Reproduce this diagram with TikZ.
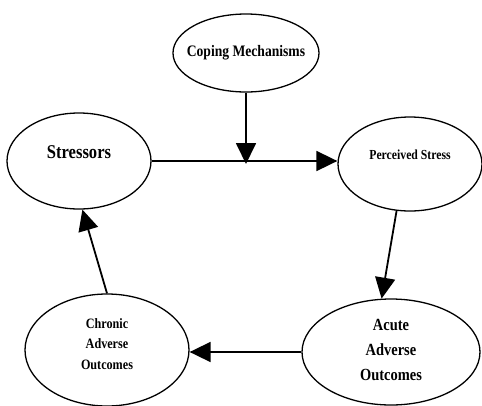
\documentclass[tikz,border=0pt]{standalone}
\usepackage{fontspec}
\setmainfont{Liberation Serif}
\newfontfamily\condserif[FakeStretch=0.85]{Liberation Serif}
\usetikzlibrary{arrows.meta,shapes.geometric}
\newcommand{\capfont}[2]{\fontsize{#1}{#2}\condserif\bfseries}
\begin{document}
\begin{tikzpicture}[x=1pt,y=-1pt,
  bubble/.style={ellipse,draw,line width=1.3pt,inner sep=0pt},
  caption/.style={inner sep=0pt,align=center},
  flow/.style={line width=1.8pt,-{Triangle[length=21pt,width=20pt]}}]
\useasboundingbox (0,0) rectangle (482,405);
% the five ellipses
\node[bubble,minimum width=146pt,minimum height=78pt] (cm) at (246,53) {};
\node[bubble,minimum width=144pt,minimum height=96pt] (s) at (79,161) {};
\node[bubble,minimum width=144pt,minimum height=94pt] (p) at (410,164) {};
\node[bubble,minimum width=178pt,minimum height=106pt] (a) at (391,352) {};
\node[bubble,minimum width=164pt,minimum height=112pt] (c) at (107,350) {};
% their texts
\node[caption,font=\capfont{16}{18}] (cm-t) at (cm) {Coping Mechanisms};
\node[caption,font=\capfont{19.5}{22}] (s-t) at ([yshift=9pt]s.center) {Stressors};
\node[caption,font=\capfont{13.8}{16}] (p-t) at ([yshift=9pt]p.center) {Perceived Stress};
\node[caption,font=\capfont{17}{25}] (a-t) at ([yshift=2pt]a.center) {Acute\\Adverse\\Outcomes};
\node[caption,font=\capfont{14.3}{20.5}] (c-t) at ([yshift=6pt]c.center) {Chronic\\Adverse\\Outcomes};
% connectors
\coordinate (join) at (246,164);
\draw[flow] (s.east) -- (s.east -| p.west);
\draw[flow] (cm.south) -- (join);
\draw[flow] (p.-106) -- (a.100);
\draw[flow] (a.west) -- (a.west -| c.east);
\draw[flow] (c.90) -- (s.-86);
\end{tikzpicture}
\end{document}
